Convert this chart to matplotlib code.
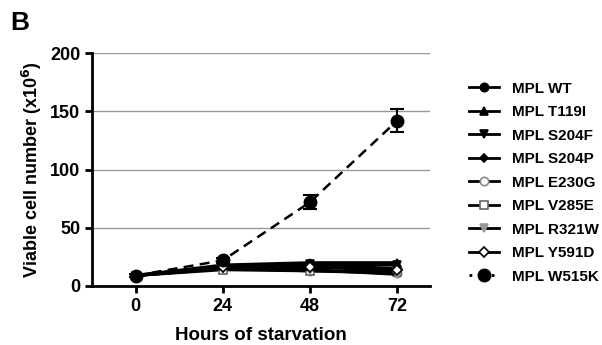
import matplotlib
matplotlib.use("Agg")
import matplotlib.pyplot as plt

plt.rcParams['font.family'] = ['Liberation Sans', 'DejaVu Sans']
plt.rcParams['font.weight'] = 'bold'

hours = [0, 24, 48, 72]
labels = ["MPL WT", "MPL T119I", "MPL S204F", "MPL S204P", "MPL E230G",
          "MPL V285E", "MPL R321W", "MPL Y591D", "MPL W515K"]
wt = [9, 17, 18, 15]
t119i = [9, 18, 20, 20]
s204f = [9, 17, 19, 18]
s204p = [9, 16, 17, 13]
e230g = [9, 15, 13, 11]
v285e = [9, 14, 13, 12]
r321w = [9, 15, 14, 10]
y591d = [9, 16, 16, 14]
w515k = [9, 22, 72, 142]
w515k_err = [1, 2, 6, 10]

series = [wt, t119i, s204f, s204p, e230g, v285e, r321w, y591d]
markers = ['o', '^', 'v', 'D', 'o', 's', 'v', 'D']
mfaces = ['black', 'black', 'black', 'black', 'white', 'white', '#999999', 'white']
medges = ['black', 'black', 'black', 'black', '#888888', '#666666', '#999999', 'black']
msizes = [6, 6, 6, 4, 6, 6, 6, 5]

fig = plt.figure(figsize=(6.02, 3.45), dpi=100)
ax = fig.add_axes([92/602, 1-286/345, (430-92)/602, (286-53)/345])

for ys, m, fc, ec, ms, lab in zip(series, markers, mfaces, medges, msizes, labels):
    ax.plot(hours, ys, color='black', lw=2.2, marker=m, markerfacecolor=fc,
            markeredgecolor=ec, markersize=ms, markeredgewidth=1.2, label=lab)
ax.errorbar(hours, w515k, yerr=w515k_err, color='black', lw=1.8, ls='none',
            capsize=5, elinewidth=1.5, capthick=1.5)
ax.plot(hours, w515k, color='black', lw=1.8, ls=(0, (4, 2.5)),
        marker='o', markersize=9, label=labels[8])

ax.set_xlim(-12, 81)
ax.set_ylim(0, 200)
ax.set_xticks(hours)
ax.set_yticks([0, 50, 100, 150, 200])
ax.yaxis.grid(True, color='#999999', lw=1)
ax.set_axisbelow(True)
for s in ['top', 'right']:
    ax.spines[s].set_visible(False)
for s in ['left', 'bottom']:
    ax.spines[s].set_linewidth(2)
ax.tick_params(axis='both', width=2, length=5, labelsize=13)
for t in ax.get_xticklabels() + ax.get_yticklabels():
    t.set_fontweight('bold')
ax.set_xlabel("Hours of starvation", fontsize=13.5, fontweight='bold', labelpad=9)
ax.set_ylabel("Viable cell number (x10$^{\\mathbf{6}}$)", fontsize=13, fontweight='bold')

leg = ax.legend(loc='upper left', bbox_to_anchor=(455/602, 1-68/345), bbox_transform=fig.transFigure,
                frameon=False, handlelength=2.0, labelspacing=0.62,
                prop={'weight': 'bold', 'size': 11})
for h in leg.legend_handles:
    h.set_linewidth(2)
leg.legend_handles[8].set_linestyle((0, (1, 3)))

fig.text(10/602, 1-30/345, "B", fontsize=19, fontweight='bold')

fig.savefig("out.png", dpi=100)
